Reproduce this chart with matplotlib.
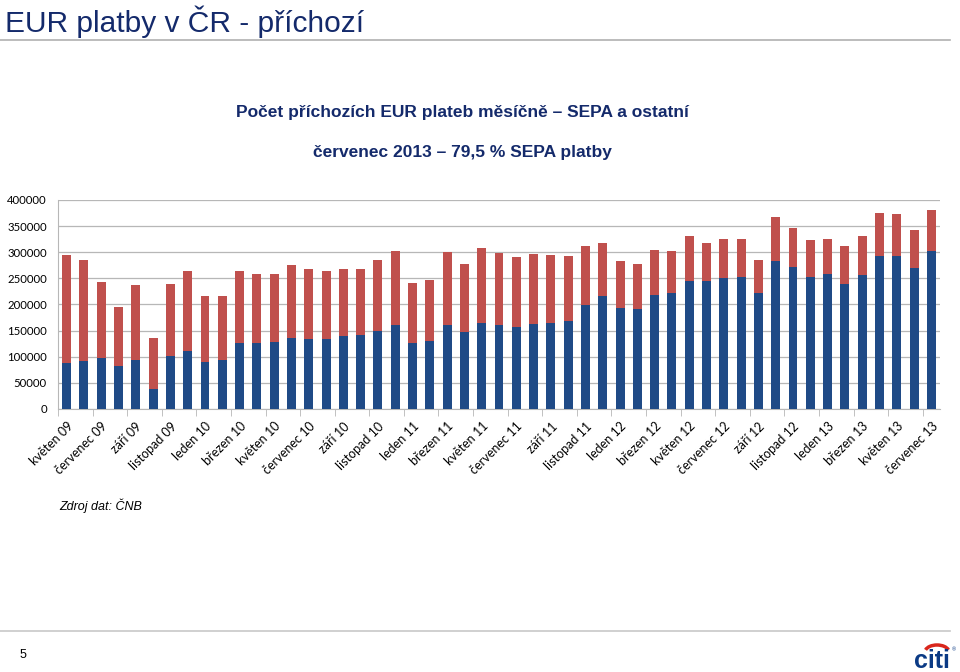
import matplotlib.pyplot as plt
from matplotlib.patches import Arc
import numpy as np

# Data (counts of incoming EUR payments per month)
months = ['květen 09', 'červen 09', 'červenec 09', 'srpen 09', 'září 09', 'říjen 09',
          'listopad 09', 'prosinec 09', 'leden 10', 'únor 10', 'březen 10', 'duben 10',
          'květen 10', 'červen 10', 'červenec 10', 'srpen 10', 'září 10', 'říjen 10',
          'listopad 10', 'prosinec 10', 'leden 11', 'únor 11', 'březen 11', 'duben 11',
          'květen 11', 'červen 11', 'červenec 11', 'srpen 11', 'září 11', 'říjen 11',
          'listopad 11', 'prosinec 11', 'leden 12', 'únor 12', 'březen 12', 'duben 12',
          'květen 12', 'červen 12', 'červenec 12', 'srpen 12', 'září 12', 'říjen 12',
          'listopad 12', 'prosinec 12', 'leden 13', 'únor 13', 'březen 13', 'duben 13',
          'květen 13', 'červen 13', 'červenec 13']

sepa = [88700, 92500, 97600, 82300, 94400, 37600, 102100, 111700, 90600, 94400,
        126300, 126300, 128900, 135900, 133300, 133300, 140400, 142300, 149300, 160100,
        127000, 130200, 160100, 146700, 164600, 160800, 157600, 163300, 164600, 169100,
        199700, 215600, 194000, 191400, 218800, 222000, 244400, 244400, 250100, 252000,
        221400, 283900, 272400, 252600, 257800, 239300, 256500, 292800, 292200, 270500,
        303000]

ostatni = [206100, 192700, 145400, 113600, 142900, 97700, 137800, 152400, 125000, 121200,
           138500, 132100, 128900, 139100, 134000, 130200, 126900, 126300, 136500, 141700,
           113500, 116100, 139800, 130200, 143600, 137100, 132700, 132700, 129500, 123700,
           111600, 102800, 89300, 86800, 86200, 80400, 87400, 74000, 74600, 73400,
           64400, 83600, 74000, 70200, 67600, 72000, 75300, 82300, 80400, 72700,
           78500]

yticks = [0, 50000, 100000, 150000, 200000, 250000, 300000, 350000, 400000]

navy = '#142a6b'
blue = '#1f4a86'
red = '#c0504d'
grid = '#b7b7b7'

fig = plt.figure(figsize=(9.6, 6.72), dpi=100)

# slide header
fig.text(0.005, 0.968, 'EUR platby v ČR - příchozí', fontsize=21.5, color=navy,
         family='Liberation Sans', va='center', ha='left')
fig.add_artist(plt.Line2D([0, 0.99], [0.940, 0.940], color='#b0b0b0', lw=1.2))

fig.text(0.482, 1 - 113 / 672, 'Počet příchozích EUR plateb měsíčně – SEPA a ostatní',
         fontsize=12.5, fontweight='bold', color=navy, family='Liberation Sans',
         ha='center', va='center')
fig.text(0.482, 1 - 152 / 672, 'červenec 2013 – 79,5 % SEPA platby',
         fontsize=12.5, fontweight='bold', color=navy, family='Liberation Sans',
         ha='center', va='center')

ax = fig.add_axes([58 / 960, 1 - 409 / 672, 882 / 960, 209 / 672])
x = np.arange(len(months))
ax.bar(x, sepa, width=0.52, color=blue, zorder=3)
ax.bar(x, ostatni, width=0.52, bottom=sepa, color=red, zorder=3)

ax.set_xlim(-0.5, len(months) - 0.5)
ax.set_ylim(0, 400000)
ax.set_yticks(yticks)
ax.set_yticklabels([str(v) for v in yticks], family='Lato', fontsize=8.2)
ax.yaxis.grid(True, color=grid, lw=0.9, zorder=0)
ax.tick_params(axis='y', length=0, pad=8)

ax.set_xticks(x[::2])
ax.set_xticklabels(months[::2], rotation=45, ha='right', va='top',
                   rotation_mode='anchor', family='Lato', fontsize=9)
ax.set_xticks(np.arange(-0.5, len(months), 2), minor=True)
ax.tick_params(axis='x', which='major', length=0, pad=8)
ax.tick_params(axis='x', which='minor', length=5, color=grid)
for lbl in ax.get_xticklabels():
    lbl.set_x(lbl.get_position()[0])

for s in ['top', 'right']:
    ax.spines[s].set_visible(False)
ax.spines['left'].set_color(grid)
ax.spines['bottom'].set_color(grid)

fig.text(0.062, 1 - 506 / 672, 'Zdroj dat: ČNB', fontsize=9, style='italic',
         family='Liberation Sans', va='center')

# footer
fig.add_artist(plt.Line2D([0, 0.99], [1 - 631 / 672, 1 - 631 / 672], color='#c8c8c8', lw=1.2))
fig.text(0.02, 1 - 655 / 672, '5', fontsize=9, family='Liberation Sans', va='center')
fig.text(950 / 960, 1 - 661 / 672, 'citi', fontsize=18, fontweight='bold', color='#0b3a85',
         family='Liberation Sans', ha='right', va='center')
fig.text(952 / 960, 1 - 650 / 672, '®', fontsize=4, color='#0b3a85',
         family='Liberation Sans', ha='left', va='center')
fig.add_artist(Arc((937 / 960, 1 - 652 / 672), 24 / 960, 14 / 672, theta1=15, theta2=165,
                   color='#d9261c', lw=2.5, transform=fig.transFigure))

fig.savefig('out.png', dpi=100)
